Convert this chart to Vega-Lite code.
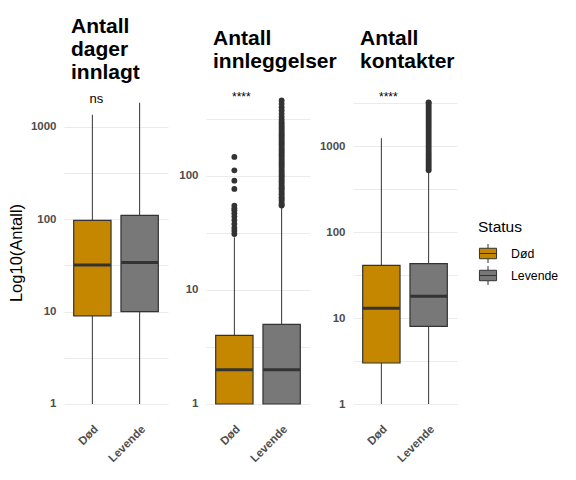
{
  "$schema": "https://vega.github.io/schema/vega-lite/v6.json",
  "padding": {"left": 8, "top": 16, "right": 5, "bottom": 5},
  "config": {
    "font": "Liberation Sans",
    "view": {"stroke": null},
    "title": {"fontSize": 21, "fontWeight": "bold", "anchor": "start", "frame": "group", "dx": 7, "lineHeight": 23, "color": "#000000"},
    "axis": {
      "domain": false, "ticks": false, "gridColor": "#ebebeb", "gridWidth": 1,
      "labelFont": "Liberation Sans", "labelFontWeight": "bold", "labelFontSize": 11.5, "labelColor": "#4d4d4d",
      "titleFont": "Liberation Sans", "titleFontWeight": "normal", "titleFontSize": 16.5, "titleColor": "#000000"
    },
    "legend": {"titleFontWeight": "normal", "titleFontSize": 15.5, "labelFontSize": 12.3, "labelColor": "#000000", "titleColor": "#000000"}
  },
  "datasets": {
    "boxes": [
      {"panel": "dager", "Status": "Død", "lower": 1, "q1": 9, "median": 32, "q3": 97, "upper": 1350},
      {"panel": "dager", "Status": "Levende", "lower": 1, "q1": 10, "median": 34, "q3": 110, "upper": 1820},
      {"panel": "innleggelser", "Status": "Død", "lower": 1, "q1": 1, "median": 2, "q3": 4, "upper": 29},
      {"panel": "innleggelser", "Status": "Levende", "lower": 1, "q1": 1, "median": 2, "q3": 5, "upper": 54},
      {"panel": "kontakter", "Status": "Død", "lower": 1, "q1": 3, "median": 13, "q3": 41, "upper": 1240},
      {"panel": "kontakter", "Status": "Levende", "lower": 1, "q1": 8, "median": 18, "q3": 43, "upper": 520}
    ],
    "outliers": [
      {"panel": "innleggelser", "Status": "Død", "value": 147},
      {"panel": "innleggelser", "Status": "Død", "value": 112},
      {"panel": "innleggelser", "Status": "Død", "value": 91},
      {"panel": "innleggelser", "Status": "Død", "value": 77},
      {"panel": "innleggelser", "Status": "Død", "value": 55},
      {"panel": "innleggelser", "Status": "Død", "value": 52},
      {"panel": "innleggelser", "Status": "Død", "value": 50},
      {"panel": "innleggelser", "Status": "Død", "value": 47},
      {"panel": "innleggelser", "Status": "Død", "value": 44},
      {"panel": "innleggelser", "Status": "Død", "value": 41},
      {"panel": "innleggelser", "Status": "Død", "value": 38},
      {"panel": "innleggelser", "Status": "Død", "value": 35},
      {"panel": "innleggelser", "Status": "Død", "value": 33},
      {"panel": "innleggelser", "Status": "Død", "value": 31},
      {"panel": "innleggelser", "Status": "Levende", "value": 459},
      {"panel": "innleggelser", "Status": "Levende", "value": 429},
      {"panel": "innleggelser", "Status": "Levende", "value": 401},
      {"panel": "innleggelser", "Status": "Levende", "value": 375},
      {"panel": "innleggelser", "Status": "Levende", "value": 351},
      {"panel": "innleggelser", "Status": "Levende", "value": 330},
      {"panel": "innleggelser", "Status": "Levende", "value": 312},
      {"panel": "innleggelser", "Status": "Levende", "value": 296},
      {"panel": "innleggelser", "Status": "Levende", "value": 285},
      {"panel": "innleggelser", "Status": "Levende", "value": 275},
      {"panel": "innleggelser", "Status": "Levende", "value": 265},
      {"panel": "innleggelser", "Status": "Levende", "value": 255},
      {"panel": "innleggelser", "Status": "Levende", "value": 245},
      {"panel": "innleggelser", "Status": "Levende", "value": 236},
      {"panel": "innleggelser", "Status": "Levende", "value": 228},
      {"panel": "innleggelser", "Status": "Levende", "value": 220},
      {"panel": "innleggelser", "Status": "Levende", "value": 212},
      {"panel": "innleggelser", "Status": "Levende", "value": 204},
      {"panel": "innleggelser", "Status": "Levende", "value": 197},
      {"panel": "innleggelser", "Status": "Levende", "value": 190},
      {"panel": "innleggelser", "Status": "Levende", "value": 183},
      {"panel": "innleggelser", "Status": "Levende", "value": 176},
      {"panel": "innleggelser", "Status": "Levende", "value": 170},
      {"panel": "innleggelser", "Status": "Levende", "value": 164},
      {"panel": "innleggelser", "Status": "Levende", "value": 158},
      {"panel": "innleggelser", "Status": "Levende", "value": 152},
      {"panel": "innleggelser", "Status": "Levende", "value": 147},
      {"panel": "innleggelser", "Status": "Levende", "value": 141},
      {"panel": "innleggelser", "Status": "Levende", "value": 136},
      {"panel": "innleggelser", "Status": "Levende", "value": 131},
      {"panel": "innleggelser", "Status": "Levende", "value": 127},
      {"panel": "innleggelser", "Status": "Levende", "value": 122},
      {"panel": "innleggelser", "Status": "Levende", "value": 118},
      {"panel": "innleggelser", "Status": "Levende", "value": 113},
      {"panel": "innleggelser", "Status": "Levende", "value": 109},
      {"panel": "innleggelser", "Status": "Levende", "value": 105},
      {"panel": "innleggelser", "Status": "Levende", "value": 101},
      {"panel": "innleggelser", "Status": "Levende", "value": 98},
      {"panel": "innleggelser", "Status": "Levende", "value": 94},
      {"panel": "innleggelser", "Status": "Levende", "value": 91},
      {"panel": "innleggelser", "Status": "Levende", "value": 88},
      {"panel": "innleggelser", "Status": "Levende", "value": 84},
      {"panel": "innleggelser", "Status": "Levende", "value": 81},
      {"panel": "innleggelser", "Status": "Levende", "value": 78},
      {"panel": "innleggelser", "Status": "Levende", "value": 76},
      {"panel": "innleggelser", "Status": "Levende", "value": 73},
      {"panel": "innleggelser", "Status": "Levende", "value": 70},
      {"panel": "innleggelser", "Status": "Levende", "value": 68},
      {"panel": "innleggelser", "Status": "Levende", "value": 65},
      {"panel": "innleggelser", "Status": "Levende", "value": 63},
      {"panel": "innleggelser", "Status": "Levende", "value": 61},
      {"panel": "innleggelser", "Status": "Levende", "value": 58},
      {"panel": "innleggelser", "Status": "Levende", "value": 56},
      {"panel": "innleggelser", "Status": "Levende", "value": 55},
      {"panel": "kontakter", "Status": "Levende", "value": 3250},
      {"panel": "kontakter", "Status": "Levende", "value": 3200},
      {"panel": "kontakter", "Status": "Levende", "value": 3031},
      {"panel": "kontakter", "Status": "Levende", "value": 2873},
      {"panel": "kontakter", "Status": "Levende", "value": 2724},
      {"panel": "kontakter", "Status": "Levende", "value": 2582},
      {"panel": "kontakter", "Status": "Levende", "value": 2447},
      {"panel": "kontakter", "Status": "Levende", "value": 2320},
      {"panel": "kontakter", "Status": "Levende", "value": 2199},
      {"panel": "kontakter", "Status": "Levende", "value": 2084},
      {"panel": "kontakter", "Status": "Levende", "value": 1976},
      {"panel": "kontakter", "Status": "Levende", "value": 1873},
      {"panel": "kontakter", "Status": "Levende", "value": 1775},
      {"panel": "kontakter", "Status": "Levende", "value": 1683},
      {"panel": "kontakter", "Status": "Levende", "value": 1595},
      {"panel": "kontakter", "Status": "Levende", "value": 1512},
      {"panel": "kontakter", "Status": "Levende", "value": 1433},
      {"panel": "kontakter", "Status": "Levende", "value": 1359},
      {"panel": "kontakter", "Status": "Levende", "value": 1288},
      {"panel": "kontakter", "Status": "Levende", "value": 1221},
      {"panel": "kontakter", "Status": "Levende", "value": 1157},
      {"panel": "kontakter", "Status": "Levende", "value": 1097},
      {"panel": "kontakter", "Status": "Levende", "value": 1040},
      {"panel": "kontakter", "Status": "Levende", "value": 986},
      {"panel": "kontakter", "Status": "Levende", "value": 935},
      {"panel": "kontakter", "Status": "Levende", "value": 886},
      {"panel": "kontakter", "Status": "Levende", "value": 840},
      {"panel": "kontakter", "Status": "Levende", "value": 797},
      {"panel": "kontakter", "Status": "Levende", "value": 755},
      {"panel": "kontakter", "Status": "Levende", "value": 716},
      {"panel": "kontakter", "Status": "Levende", "value": 679},
      {"panel": "kontakter", "Status": "Levende", "value": 643},
      {"panel": "kontakter", "Status": "Levende", "value": 610},
      {"panel": "kontakter", "Status": "Levende", "value": 578},
      {"panel": "kontakter", "Status": "Levende", "value": 548},
      {"panel": "kontakter", "Status": "Levende", "value": 525}
    ],
    "labels": [
      {"panel": "dager", "Status": "Død", "label": "ns", "y": 2000},
      {"panel": "innleggelser", "Status": "Død", "label": "****", "y": 492},
      {"panel": "kontakter", "Status": "Død", "label": "****", "y": 3750}
    ]
  },
  "bounds": "flush",
  "spacing": 38,
  "hconcat": [
    {
      "width": 104, "height": 329,
      "title": {"text": ["Antall", "dager", "innlagt"], "offset": 5},
      "encoding": {
        "x": {"field": "Status", "type": "nominal", "title": null,
          "scale": {"domain": ["Død", "Levende"], "paddingInner": 0.21, "paddingOuter": 0.205},
          "axis": {"labelAngle": -45, "labelPadding": 6}}
      },
      "layer": [
        {
          "data": {"name": "boxes"},
          "transform": [{"filter": "datum.panel == 'dager'"}],
          "layer": [
            {"mark": {"type": "rule", "color": "#333333", "strokeWidth": 1},
              "encoding": {
                "y": {"field": "lower", "type": "quantitative", "title": "Log10(Antall)",
                  "scale": {"type": "log", "domain": [0.723, 2630], "nice": false},
                  "axis": {"values": [1, 3.162, 10, 31.62, 100, 316.2, 1000], "format": "d", "labelExpr": "indexof([1,10,100,1000], datum.value) >= 0 ? datum.label : ''", "labelPadding": 8, "titlePadding": 6}},
                "y2": {"field": "upper"}}},
            {"mark": {"type": "bar", "stroke": "#333333", "strokeWidth": 1.2},
              "encoding": {
                "y": {"field": "q1", "type": "quantitative"},
                "y2": {"field": "q3"},
                "color": {"field": "Status", "type": "nominal", "scale": {"domain": ["Død", "Levende"], "range": ["#c68700", "#787878"]},
                  "legend": {"orient": "none", "legendX": 414, "legendY": 132, "symbolType": "M-0.9,-0.55H0.9V0.55H-0.9Z M-0.9,0H0.9 M0,-0.55V-1 M0,0.55V1", "symbolSize": 361, "symbolStrokeColor": "#333333", "symbolStrokeWidth": 1, "symbolOpacity": 1, "rowPadding": -2, "labelOffset": 13, "titlePadding": 8}}}},
            {"mark": {"type": "tick", "color": "#333333", "thickness": 3, "size": 37, "opacity": 1},
              "encoding": {"y": {"field": "median", "type": "quantitative"}}}
          ]
        },
        {
          "data": {"name": "labels"},
          "transform": [{"filter": "datum.panel == 'dager'"}],
          "mark": {"type": "text", "fontSize": 13, "dx": 4, "baseline": "middle"},
          "encoding": {"y": {"field": "y", "type": "quantitative"}, "text": {"field": "label"}}
        }
      ]
    },
    {
      "bounds": "flush",
      "spacing": 43,
      "hconcat": [
        {
          "width": 104, "height": 329,
          "title": {"text": ["Antall", "innleggelser"], "offset": 16},
          "encoding": {
            "x": {"field": "Status", "type": "nominal", "title": null,
              "scale": {"domain": ["Død", "Levende"], "paddingInner": 0.21, "paddingOuter": 0.205},
              "axis": {"labelAngle": -45, "labelPadding": 6}}
          },
          "layer": [
            {
              "data": {"name": "boxes"},
              "transform": [{"filter": "datum.panel == 'innleggelser'"}],
              "layer": [
                {"mark": {"type": "rule", "color": "#333333", "strokeWidth": 1},
                  "encoding": {
                    "y": {"field": "lower", "type": "quantitative", "title": null,
                      "scale": {"type": "log", "domain": [0.769, 591], "nice": false},
                      "axis": {"values": [1, 3.162, 10, 31.62, 100, 316.2], "format": "d", "labelExpr": "indexof([1,10,100,1000], datum.value) >= 0 ? datum.label : ''", "labelPadding": 8}},
                    "y2": {"field": "upper"}}},
                {"mark": {"type": "bar", "stroke": "#333333", "strokeWidth": 1.2},
                  "encoding": {
                    "y": {"field": "q1", "type": "quantitative"},
                    "y2": {"field": "q3"},
                    "color": {"field": "Status", "type": "nominal"}}},
                {"mark": {"type": "tick", "color": "#333333", "thickness": 3, "size": 37, "opacity": 1},
                  "encoding": {"y": {"field": "median", "type": "quantitative"}}}
              ]
            },
            {
              "data": {"name": "outliers"},
              "transform": [{"filter": "datum.panel == 'innleggelser'"}],
              "mark": {"type": "circle", "color": "#333333", "size": 34, "opacity": 1},
              "encoding": {"y": {"field": "value", "type": "quantitative"}}
            },
            {
              "data": {"name": "labels"},
              "transform": [{"filter": "datum.panel == 'innleggelser'"}],
              "mark": {"type": "text", "fontSize": 12, "dx": 7, "baseline": "middle"},
              "encoding": {"y": {"field": "y", "type": "quantitative"}, "text": {"field": "label"}}
            }
          ]
        },
        {
          "width": 104, "height": 329,
          "title": {"text": ["Antall", "kontakter"], "offset": 16},
          "encoding": {
            "x": {"field": "Status", "type": "nominal", "title": null,
              "scale": {"domain": ["Død", "Levende"], "paddingInner": 0.21, "paddingOuter": 0.205},
              "axis": {"labelAngle": -45, "labelPadding": 6}}
          },
          "layer": [
            {
              "data": {"name": "boxes"},
              "transform": [{"filter": "datum.panel == 'kontakter'"}],
              "layer": [
                {"mark": {"type": "rule", "color": "#333333", "strokeWidth": 1},
                  "encoding": {
                    "y": {"field": "lower", "type": "quantitative", "title": null,
                      "scale": {"type": "log", "domain": [0.706, 4770], "nice": false},
                      "axis": {"values": [1, 3.162, 10, 31.62, 100, 316.2, 1000, 3162], "format": "d", "labelExpr": "indexof([1,10,100,1000], datum.value) >= 0 ? datum.label : ''", "labelPadding": 8}},
                    "y2": {"field": "upper"}}},
                {"mark": {"type": "bar", "stroke": "#333333", "strokeWidth": 1.2},
                  "encoding": {
                    "y": {"field": "q1", "type": "quantitative"},
                    "y2": {"field": "q3"},
                    "color": {"field": "Status", "type": "nominal"}}},
                {"mark": {"type": "tick", "color": "#333333", "thickness": 3, "size": 37, "opacity": 1},
                  "encoding": {"y": {"field": "median", "type": "quantitative"}}}
              ]
            },
            {
              "data": {"name": "outliers"},
              "transform": [{"filter": "datum.panel == 'kontakter'"}],
              "mark": {"type": "circle", "color": "#333333", "size": 34, "opacity": 1},
              "encoding": {"y": {"field": "value", "type": "quantitative"}}
            },
            {
              "data": {"name": "labels"},
              "transform": [{"filter": "datum.panel == 'kontakter'"}],
              "mark": {"type": "text", "fontSize": 12, "dx": 7, "baseline": "middle"},
              "encoding": {"y": {"field": "y", "type": "quantitative"}, "text": {"field": "label"}}
            }
          ]
        }
      ]
    }
  ]
}
